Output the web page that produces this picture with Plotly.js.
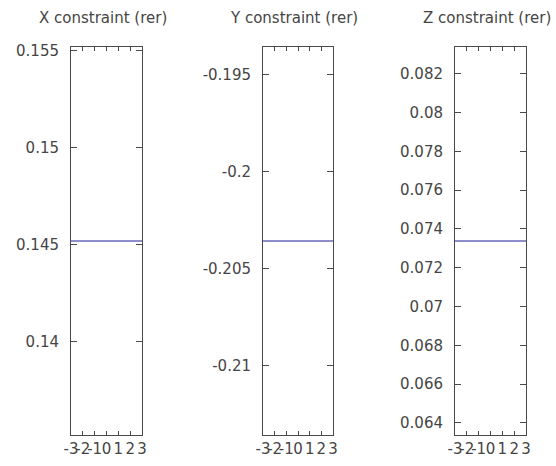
<!DOCTYPE html>
<html>
<head>
<meta charset="utf-8">
<script src="https://cdn.plot.ly/plotly-3.0.1.min.js"></script>
<style>
  html, body { margin: 0; padding: 0; background: #fff; }
  #chart { width: 556px; height: 466px; }
</style>
</head>
<body>
<div id="chart"></div>
<script>
// Constraint values per axis (rer), constant over the sample range
const panelTitles = ['X constraint (rer)', 'Y constraint (rer)', 'Z constraint (rer)'];
const xSamples = [-3, -2, -1, 0, 1, 2, 3];
const xConstraint = [0.14517, 0.14517, 0.14517, 0.14517, 0.14517, 0.14517, 0.14517];
const yConstraint = [-0.20356, -0.20356, -0.20356, -0.20356, -0.20356, -0.20356, -0.20356];
const zConstraint = [0.07338, 0.07338, 0.07338, 0.07338, 0.07338, 0.07338, 0.07338];

// Tick positions and labels
const xTickVals = [-3, -2, -1, 0, 1, 2, 3];
const xTickLabels = ['-3', '-2', '-1', '0', '1', '2', '3'];
const xConstraintTicks = [0.14, 0.145, 0.15, 0.155];
const xConstraintLabels = ['0.14', '0.145', '0.15', '0.155'];
const yConstraintTicks = [-0.21, -0.205, -0.2, -0.195];
const yConstraintLabels = ['-0.21', '-0.205', '-0.2', '-0.195'];
const zConstraintTicks = [0.064, 0.066, 0.068, 0.07, 0.072, 0.074, 0.076, 0.078, 0.08, 0.082];
const zConstraintLabels = ['0.064', '0.066', '0.068', '0.07', '0.072', '0.074', '0.076', '0.078', '0.08', '0.082'];
const halfSpan = 0.01;

const series = [xConstraint, yConstraint, zConstraint];
const yTickVals = [xConstraintTicks, yConstraintTicks, zConstraintTicks];
const yTickLabels = [xConstraintLabels, yConstraintLabels, zConstraintLabels];

const xDomains = [[71 / 556, 142 / 556], [263 / 556, 333 / 556], [455 / 556, 526 / 556]];
const yDomain = [1 - 435 / 466, 1 - 47 / 466];

const textColor = '#454545';
const frameColor = '#4a4a4a';
const lineColor = '#1c1c9c';
const font = { family: 'DejaVu Sans, sans-serif', size: 15, color: textColor };

const traces = series.map((vals, i) => ({
  x: xSamples,
  y: vals,
  xaxis: i === 0 ? 'x' : 'x' + (i + 1),
  yaxis: i === 0 ? 'y' : 'y' + (i + 1),
  type: 'scatter',
  mode: 'lines',
  line: { color: lineColor, width: 1 },
  hoverinfo: 'skip',
  showlegend: false
}));

const layout = {
  width: 556,
  height: 466,
  margin: { l: 0, r: 0, t: 0, b: 0 },
  paper_bgcolor: '#ffffff',
  plot_bgcolor: '#ffffff',
  font: font,
  showlegend: false,
  annotations: []
};

series.forEach((vals, i) => {
  const sfx = i === 0 ? '' : String(i + 1);
  const center = vals[0];
  layout['xaxis' + sfx] = {
    domain: xDomains[i],
    anchor: 'y' + sfx,
    range: [-3, 3],
    tickmode: 'array',
    tickvals: xTickVals,
    ticktext: xTickLabels,
    tickangle: 0,
    ticks: 'inside',
    ticklen: 4,
    tickcolor: frameColor,
    tickwidth: 1,
    showline: true,
    linecolor: frameColor,
    linewidth: 1,
    mirror: 'allticks',
    showgrid: false,
    zeroline: false,
    fixedrange: true,
    ticklabelstandoff: 0,
    tickfont: font
  };
  layout['yaxis' + sfx] = {
    domain: yDomain,
    anchor: 'x' + sfx,
    range: [center - halfSpan, center + halfSpan],
    tickmode: 'array',
    tickvals: yTickVals[i],
    ticktext: yTickLabels[i],
    ticks: 'inside',
    ticklen: 6,
    tickcolor: frameColor,
    tickwidth: 1,
    showline: true,
    linecolor: frameColor,
    linewidth: 1,
    mirror: 'allticks',
    showgrid: false,
    zeroline: false,
    fixedrange: true,
    ticklabelstandoff: 8,
    tickfont: font
  };
  layout.annotations.push({
    text: panelTitles[i],
    xref: 'paper',
    yref: 'paper',
    x: (xDomains[i][0] + xDomains[i][1]) / 2 - 4 / 556,
    y: 1 - 18 / 466,
    xanchor: 'center',
    yanchor: 'middle',
    showarrow: false,
    font: { family: 'DejaVu Sans, sans-serif', size: 15, color: textColor }
  });
});

Plotly.newPlot('chart', traces, layout, { staticPlot: true, displayModeBar: false });
</script>
</body>
</html>
